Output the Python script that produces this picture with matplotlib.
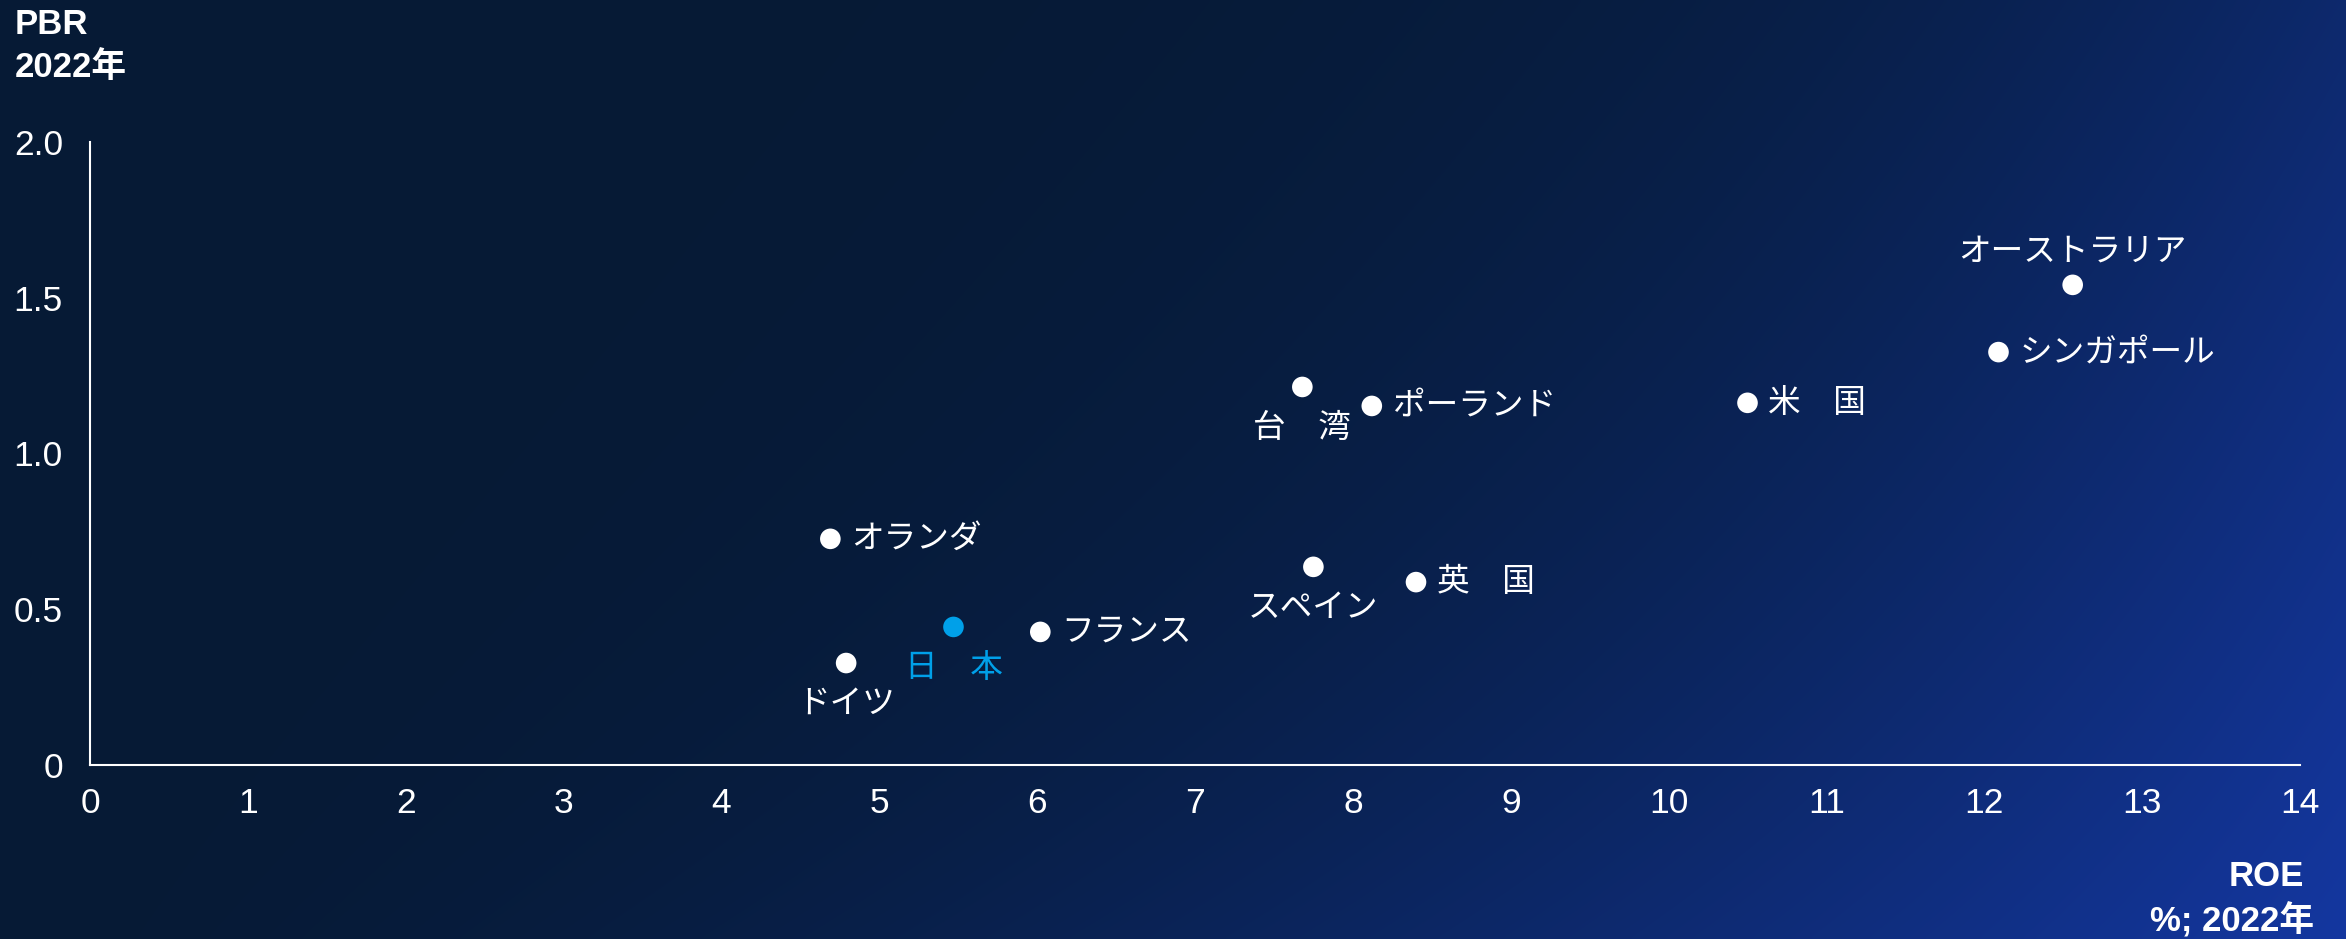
import numpy as np
import matplotlib
matplotlib.use("Agg")
import matplotlib.pyplot as plt

# ---- data ----
countries = ["オーストラリア", "シンガポール", "米　国", "ポーランド", "台　湾",
             "オランダ", "スペイン", "英　国", "日　本", "フランス", "ドイツ"]
roe = [12.56, 12.09, 10.50, 8.12, 7.68, 4.69, 7.75, 8.40, 5.47, 6.02, 4.79]
pbr = [1.541, 1.325, 1.162, 1.152, 1.213, 0.725, 0.635, 0.586, 0.442, 0.426, 0.326]
label_pos = ["above", "right", "right", "right", "below",
             "right", "below", "right", "below", "right", "below"]
x_ticks = list(range(0, 15))
y_ticks = [0, 0.5, 1.0, 1.5, 2.0]
y_tick_labels = ["0", "0.5", "1.0", "1.5", "2.0"]

W, H = 2346, 939
fig = plt.figure(figsize=(W / 100, H / 100), dpi=100)

# ---- gradient background ----
bg = fig.add_axes([0, 0, 1, 1], zorder=-10)
u = np.linspace(0, 1, 600)[None, :]
v = np.linspace(0, 1, 300)[:, None]
amp = 0.52 + 0.48 * v
p = 4.1 - 2.46 * v
t = np.clip(amp * u ** p, 0, 1)
c0 = np.array([6, 26, 53]) / 255
c1 = np.array([20, 55, 160]) / 255
img = c0[None, None, :] * (1 - t[..., None]) + c1[None, None, :] * t[..., None]
bg.imshow(img, aspect="auto", extent=[0, 1, 0, 1], origin="upper", interpolation="bicubic")
bg.set_axis_off()

# ---- main axes ----
left = 90 / W
right = 2300 / W
bottom = 1 - 764.5 / H
top = 1 - 142 / H
ax = fig.add_axes([left, bottom, right - left, top - bottom])
ax.set_facecolor("none")
ax.set_xlim(0, 14)
ax.set_ylim(0, 2.0)
for s in ["top", "right"]:
    ax.spines[s].set_visible(False)
for s in ["left", "bottom"]:
    ax.spines[s].set_color("white")
    ax.spines[s].set_linewidth(1.5)

num_font = ["Liberation Sans", "Noto Sans CJK JP"]
ax.set_xticks(x_ticks)
ax.set_xticklabels([str(x) for x in x_ticks])
ax.set_yticks(y_ticks)
ax.set_yticklabels(y_tick_labels)
ax.tick_params(axis="both", length=0, colors="white", labelsize=25.5)
ax.tick_params(axis="x", pad=16.5)
ax.tick_params(axis="y", pad=19.5)
for lab in ax.get_xticklabels() + ax.get_yticklabels():
    lab.set_family(num_font)

white = "white"
blue = "#00A0E9"
for name, x, y, pos in zip(countries, roe, pbr, label_pos):
    col = blue if name == "日　本" else white
    ax.scatter([x], [y], s=220, color=col, edgecolors="none", zorder=3, clip_on=False)
    if pos == "right":
        off, ha, va = (15, 0), "left", "center"
    elif pos == "below":
        off, ha, va = (0, -29.5), "center", "center"
    else:
        off, ha, va = (0, 24), "center", "center"
    ax.annotate(name, (x, y), xytext=off, textcoords="offset points",
                ha=ha, va=va, fontsize=23.5, color=col,
                family=["Noto Sans CJK JP", "DejaVu Sans"])

# ---- axis titles ----
bold = dict(color="white", fontsize=25, fontweight="bold", family=num_font)
fig.text(15 / W, 1 - 24 / H, "PBR", ha="left", va="center", **bold)
fig.text(15 / W, 1 - 67 / H, "2022年", ha="left", va="center", **bold)
fig.text(2304 / W, 1 - 876 / H, "ROE", ha="right", va="center", **bold)
fig.text(2314 / W, 1 - 921 / H, "%; 2022年", ha="right", va="center", **bold)

fig.savefig("out.png", dpi=100)
